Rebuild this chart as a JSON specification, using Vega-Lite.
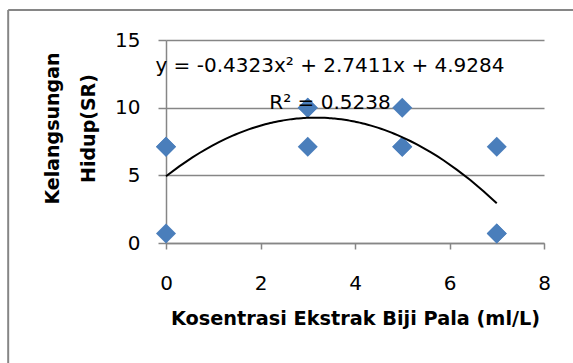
{
  "$schema": "https://vega.github.io/schema/vega-lite/v6.json",
  "width": 378,
  "height": 203,
  "autosize": {"type": "none"},
  "padding": {"left": 166, "top": 40, "right": 29, "bottom": 120},
  "background": "white",
  "config": {"view": {"stroke": null}, "font": "DejaVu Sans"},
  "datasets": {
    "points": [
      {"konsentrasi": 0, "sr": 7.11},
      {"konsentrasi": 0, "sr": 7.11},
      {"konsentrasi": 0, "sr": 0.71},
      {"konsentrasi": 3, "sr": 10},
      {"konsentrasi": 3, "sr": 10},
      {"konsentrasi": 3, "sr": 7.11},
      {"konsentrasi": 5, "sr": 10},
      {"konsentrasi": 5, "sr": 7.11},
      {"konsentrasi": 5, "sr": 7.11},
      {"konsentrasi": 7, "sr": 7.11},
      {"konsentrasi": 7, "sr": 0.71},
      {"konsentrasi": 7, "sr": 0.71}
    ],
    "single": [{"id": 1}]
  },
  "layer": [
    {
      "data": {"name": "single"},
      "mark": {"type": "rule", "color": "#868686", "strokeWidth": 2, "clip": false},
      "encoding": {
        "x": {"datum": -3.34, "type": "quantitative"},
        "x2": {"datum": 8.7},
        "y": {"datum": 17.22, "type": "quantitative"}
      }
    },
    {
      "data": {"name": "single"},
      "mark": {"type": "rule", "color": "#868686", "strokeWidth": 2, "clip": false},
      "encoding": {
        "x": {"datum": -3.34, "type": "quantitative"},
        "y": {"datum": 17.22, "type": "quantitative"},
        "y2": {"datum": -9}
      }
    },
    {
      "data": {"name": "points"},
      "mark": {"type": "point", "shape": "diamond", "filled": true, "size": 400, "color": "#4A7EBB", "opacity": 1},
      "encoding": {
        "x": {
          "field": "konsentrasi",
          "type": "quantitative",
          "scale": {"domain": [0, 8], "nice": false, "zero": false},
          "axis": {
            "values": [0, 2, 4, 6, 8],
            "grid": false,
            "domainColor": "#868686",
            "domainWidth": 1.5,
            "tickColor": "#868686",
            "tickWidth": 1.5,
            "tickSize": 6,
            "labelFontSize": 20,
            "labelFontWeight": "normal",
            "labelColor": "black",
            "labelPadding": 24,
            "labelFlush": false,
            "title": "Kosentrasi Ekstrak Biji Pala (ml/L)",
            "titleFontSize": 19.3,
            "titleFontWeight": "bold",
            "titleColor": "black",
            "titlePadding": 16
          }
        },
        "y": {
          "field": "sr",
          "type": "quantitative",
          "scale": {"domain": [0, 15], "nice": false, "zero": false},
          "axis": {
            "values": [0, 5, 10, 15],
            "grid": true,
            "gridColor": "#868686",
            "gridWidth": 1.5,
            "domainColor": "#868686",
            "domainWidth": 1.5,
            "tickColor": "#868686",
            "tickWidth": 1.5,
            "tickSize": 8,
            "labelFontSize": 20,
            "labelFontWeight": "normal",
            "labelColor": "black",
            "labelPadding": 18,
            "labelFlush": false,
            "title": ["Kelangsungan", "Hidup(SR)"],
            "titleFontSize": 19,
            "titleFontWeight": "bold",
            "titleColor": "black",
            "titleLineHeight": 36,
            "titlePadding": 16,
            "titleY": 88
          }
        }
      }
    },
    {
      "data": {"name": "points"},
      "transform": [
        {"regression": "sr", "on": "konsentrasi", "method": "poly", "order": 2, "extent": [0, 7]}
      ],
      "mark": {"type": "line", "color": "black", "strokeWidth": 2},
      "encoding": {
        "x": {"field": "konsentrasi", "type": "quantitative"},
        "y": {"field": "sr", "type": "quantitative"}
      }
    },
    {
      "data": {"name": "single"},
      "mark": {"type": "text", "text": "y = -0.4323x² + 2.7411x + 4.9284", "fontSize": 20, "fontWeight": "normal", "align": "center", "baseline": "middle", "color": "black"},
      "encoding": {
        "x": {"datum": 3.47, "type": "quantitative"},
        "y": {"datum": 13.1, "type": "quantitative"}
      }
    },
    {
      "data": {"name": "single"},
      "mark": {"type": "text", "text": "R² = 0.5238", "fontSize": 20, "fontWeight": "normal", "align": "center", "baseline": "middle", "color": "black"},
      "encoding": {
        "x": {"datum": 3.47, "type": "quantitative"},
        "y": {"datum": 10.35, "type": "quantitative"}
      }
    }
  ]
}
